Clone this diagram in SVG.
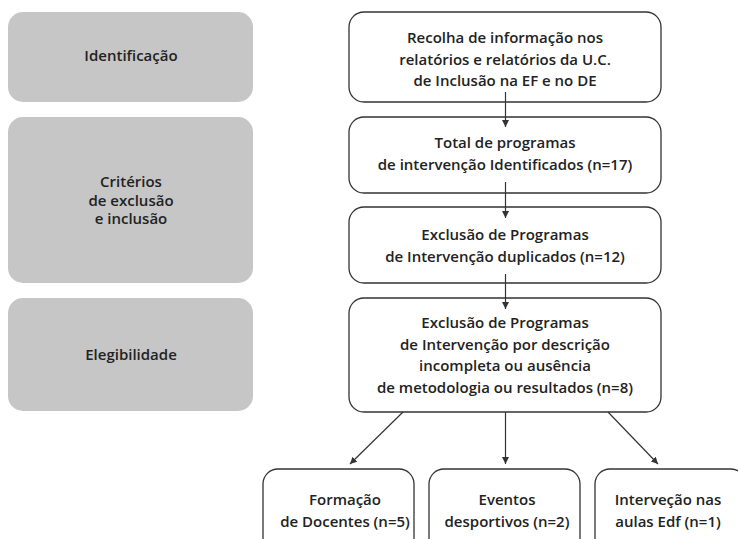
<svg xmlns="http://www.w3.org/2000/svg" width="738" height="539" viewBox="0 0 738 539">
<defs>
<style>
.phase{fill:#c6c6c6;stroke:none}
.box{fill:#fff;stroke:#333;stroke-width:1.3}
text{font-family:"Open Sans","Liberation Sans",sans-serif;font-size:15px;font-weight:600;fill:#222;text-anchor:middle}
.conn line{stroke:#333;stroke-width:1.2}
</style>
<marker id="ah" viewBox="0 0 10 10" refX="10" refY="5" markerWidth="7" markerHeight="7" markerUnits="userSpaceOnUse" orient="auto">
<path d="M0,0 L10,5 L0,10 z" fill="#333"/>
</marker>
</defs>
<rect width="738" height="539" fill="#fff"/>
<g id="phase-identificacao">
<rect class="phase" x="8" y="12" width="245" height="90" rx="15"/>
<text x="131" y="61">Identificação</text>
</g>
<g id="phase-criterios">
<rect class="phase" x="8" y="117" width="245" height="166" rx="15"/>
<text x="131" y="187">Critérios</text>
<text x="131" y="205.5">de exclusão</text>
<text x="131" y="224">e inclusão</text>
</g>
<g id="phase-elegibilidade">
<rect class="phase" x="8" y="298" width="245" height="113" rx="15"/>
<text x="131" y="360">Elegibilidade</text>
</g>
<g id="n1">
<rect class="box" x="349" y="12" width="312" height="90" rx="15"/>
<text x="505" y="43">Recolha de informação nos</text>
<text x="505" y="64.5">relatórios e relatórios da U.C.</text>
<text x="505" y="86">de Inclusão na EF e no DE</text>
</g>
<g id="n2">
<rect class="box" x="349" y="117" width="312" height="76" rx="15"/>
<text x="505" y="148">Total de programas</text>
<text x="505" y="170">de intervenção Identificados (n=17)</text>
</g>
<g id="n3">
<rect class="box" x="349" y="207" width="312" height="76" rx="15"/>
<text x="505" y="240">Exclusão de Programas</text>
<text x="505" y="262">de Intervenção duplicados (n=12)</text>
</g>
<g id="n4">
<rect class="box" x="349" y="298" width="312" height="114" rx="15"/>
<text x="505" y="328">Exclusão de Programas</text>
<text x="505" y="349.5">de Intervenção por descrição</text>
<text x="505" y="371">incompleta ou ausência</text>
<text x="505" y="392.5">de metodologia ou resultados (n=8)</text>
</g>
<g id="n5">
<rect class="box" x="263" y="469" width="151" height="90" rx="15"/>
<text x="345" y="505">Formação</text>
<text x="345" y="526.5">de Docentes (n=5)</text>
</g>
<g id="n6">
<rect class="box" x="429" y="469" width="151" height="90" rx="15"/>
<text x="507" y="505">Eventos</text>
<text x="507" y="526.5">desportivos (n=2)</text>
</g>
<g id="n7">
<rect class="box" x="595" y="469" width="151" height="90" rx="15"/>
<text x="668" y="505">Interveção nas</text>
<text x="668" y="526.5">aulas Edf (n=1)</text>
</g>
<g id="connectors" class="conn">
<line x1="505.5" y1="92" x2="505.5" y2="127" marker-end="url(#ah)"/>
<line x1="505.5" y1="182" x2="505.5" y2="218" marker-end="url(#ah)"/>
<line x1="505.5" y1="274" x2="505.5" y2="309" marker-end="url(#ah)"/>
<line x1="403" y1="412" x2="350" y2="464" marker-end="url(#ah)"/>
<line x1="505.5" y1="412" x2="505.5" y2="464" marker-end="url(#ah)"/>
<line x1="608" y1="412" x2="658" y2="464" marker-end="url(#ah)"/>
</g>
</svg>
